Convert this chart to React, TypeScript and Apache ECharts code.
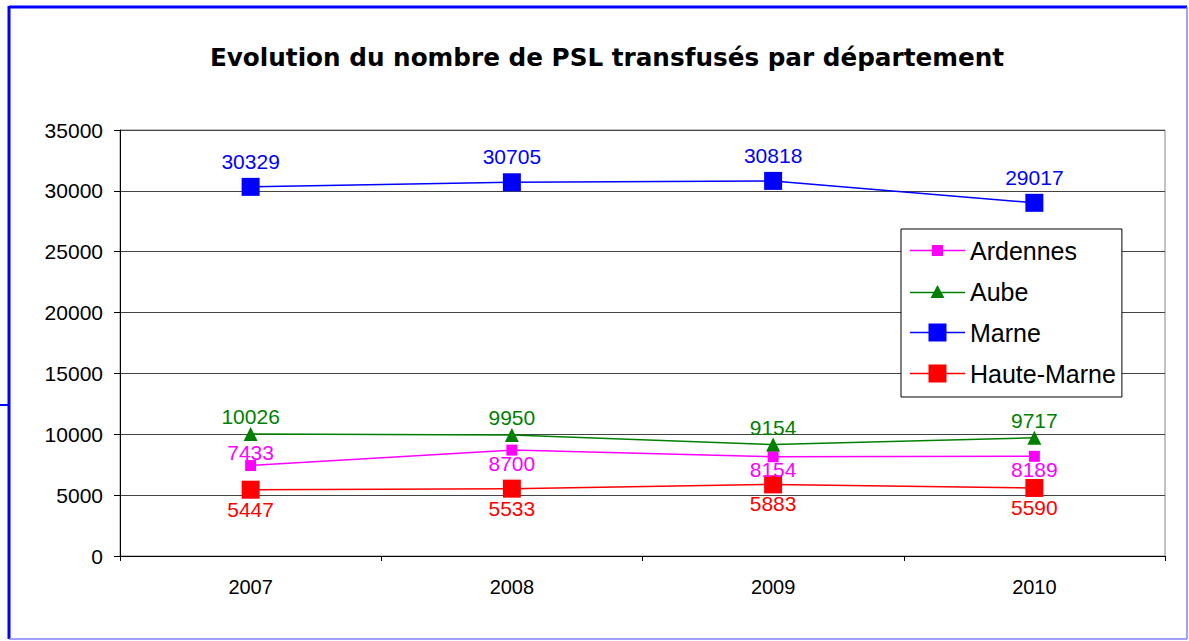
import React, { useEffect, useRef } from "react";
import * as echarts from "echarts";

const years = ["2007", "2008", "2009", "2010"];
const ardennes = [7433, 8700, 8154, 8189];
const aube = [10026, 9950, 9154, 9717];
const marne = [30329, 30705, 30818, 29017];
const hauteMarne = [5447, 5533, 5883, 5590];
const ardennesLabelPos = ["top", "bottom", "bottom", "bottom"];

// legend icons: a thin line with the series' marker
const iconSmallSquare = "path://M0,4.75H55V6.25H0Z M22,0H33V11H22Z";
const iconTriangle = "path://M0,6.75H55V8.25H0Z M20.5,13L27.5,0L34.5,13Z";
const iconBigSquare = "path://M0,8.25H55V9.75H0Z M18.5,0H36.5V18H18.5Z";

export default function App() {
  const ref = useRef<HTMLDivElement>(null);
  useEffect(() => {
    document.body.style.margin = "0";
    const chart = echarts.init(ref.current!, null, { renderer: "svg" });
    const font = "Liberation Sans, Arial, sans-serif";
    const mk = (
      name: string,
      data: number[],
      color: string,
      symbol: string,
      size: number,
      pos: string | string[],
      dist: number
    ) => ({
      name,
      type: "line",
      data: data.map((v, i) => ({
        value: v,
        label: { position: Array.isArray(pos) ? pos[i] : pos },
      })),
      symbol,
      symbolSize: size,
      showAllSymbol: true,
      lineStyle: { color, width: 1.5 },
      itemStyle: { color },
      label: {
        show: true,
        color,
        fontSize: 21,
        fontFamily: font,
        distance: dist,
      },
    });
    chart.setOption({
      animation: false,
      backgroundColor: "#fff",
      title: {
        text: "Evolution du nombre de PSL transfusés par département",
        left: 602,
        textAlign: "center",
        top: 40,
        textStyle: {
          fontFamily: "DejaVu Sans, sans-serif",
          fontWeight: "bold",
          fontSize: 24.7,
          color: "#000",
        },
      },
      grid: {
        left: 120,
        right: 24,
        top: 130,
        bottom: 85,
        show: true,
        borderColor: "#888",
        borderWidth: 1,
      },
      legend: {
        orient: "vertical",
        left: 901,
        top: 229,
        itemWidth: 55,
        itemHeight: 18,
        itemGap: 16,
        padding: [9, 6, 11, 9],
        backgroundColor: "#fff",
        borderColor: "#000",
        borderWidth: 1,
        borderRadius: 0,
        symbolKeepAspect: true,
        textStyle: { fontFamily: font, fontSize: 25, color: "#000" },
        data: [
          { name: "Ardennes", icon: iconSmallSquare },
          { name: "Aube", icon: iconTriangle },
          { name: "Marne", icon: iconBigSquare },
          { name: "Haute-Marne", icon: iconBigSquare },
        ],
      },
      xAxis: {
        type: "category",
        data: years,
        boundaryGap: true,
        axisLine: { lineStyle: { color: "#000", width: 1 } },
        axisTick: { show: true, length: 5, lineStyle: { color: "#000" } },
        axisLabel: {
          fontFamily: font,
          fontSize: 20,
          color: "#000",
          margin: 21,
        },
      },
      yAxis: {
        type: "value",
        min: 0,
        max: 35000,
        interval: 5000,
        axisLine: { show: true, lineStyle: { color: "#000", width: 1 } },
        axisTick: { show: true, length: 6, lineStyle: { color: "#000" } },
        axisLabel: {
          fontFamily: font,
          fontSize: 21,
          color: "#000",
          margin: 17,
          formatter: (v: number) => String(v),
        },
        splitLine: { lineStyle: { color: "#444", width: 1 } },
      },
      graphic: [
        {
          type: "line",
          shape: { x1: 9, y1: 7, x2: 1187, y2: 7 },
          style: { stroke: "#0000ff", lineWidth: 3 },
        },
        {
          type: "line",
          shape: { x1: 9, y1: 6, x2: 9, y2: 639 },
          style: { stroke: "#0000ff", lineWidth: 3 },
        },
        {
          type: "line",
          shape: { x1: 9, y1: 639, x2: 1187, y2: 639 },
          style: { stroke: "#8080ff", lineWidth: 1.5 },
        },
        {
          type: "line",
          shape: { x1: 1187, y1: 7, x2: 1187, y2: 639 },
          style: { stroke: "#8080ff", lineWidth: 1.5 },
        },
        {
          type: "line",
          shape: { x1: 0, y1: 405, x2: 9, y2: 405 },
          style: { stroke: "#0000ff", lineWidth: 2 },
        },
      ],
      series: [
        mk("Ardennes", ardennes, "#ff00ff", "rect", 11, ardennesLabelPos, -3),
        mk("Aube", aube, "#008000", "triangle", 14, "top", 0),
        mk("Marne", marne, "#0000ff", "rect", 18, "top", 6),
        mk("Haute-Marne", hauteMarne, "#ff0000", "rect", 18, "bottom", 0),
      ],
    });
    return () => chart.dispose();
  }, []);
  return <div ref={ref} style={{ width: 1189, height: 641 }} />;
}
